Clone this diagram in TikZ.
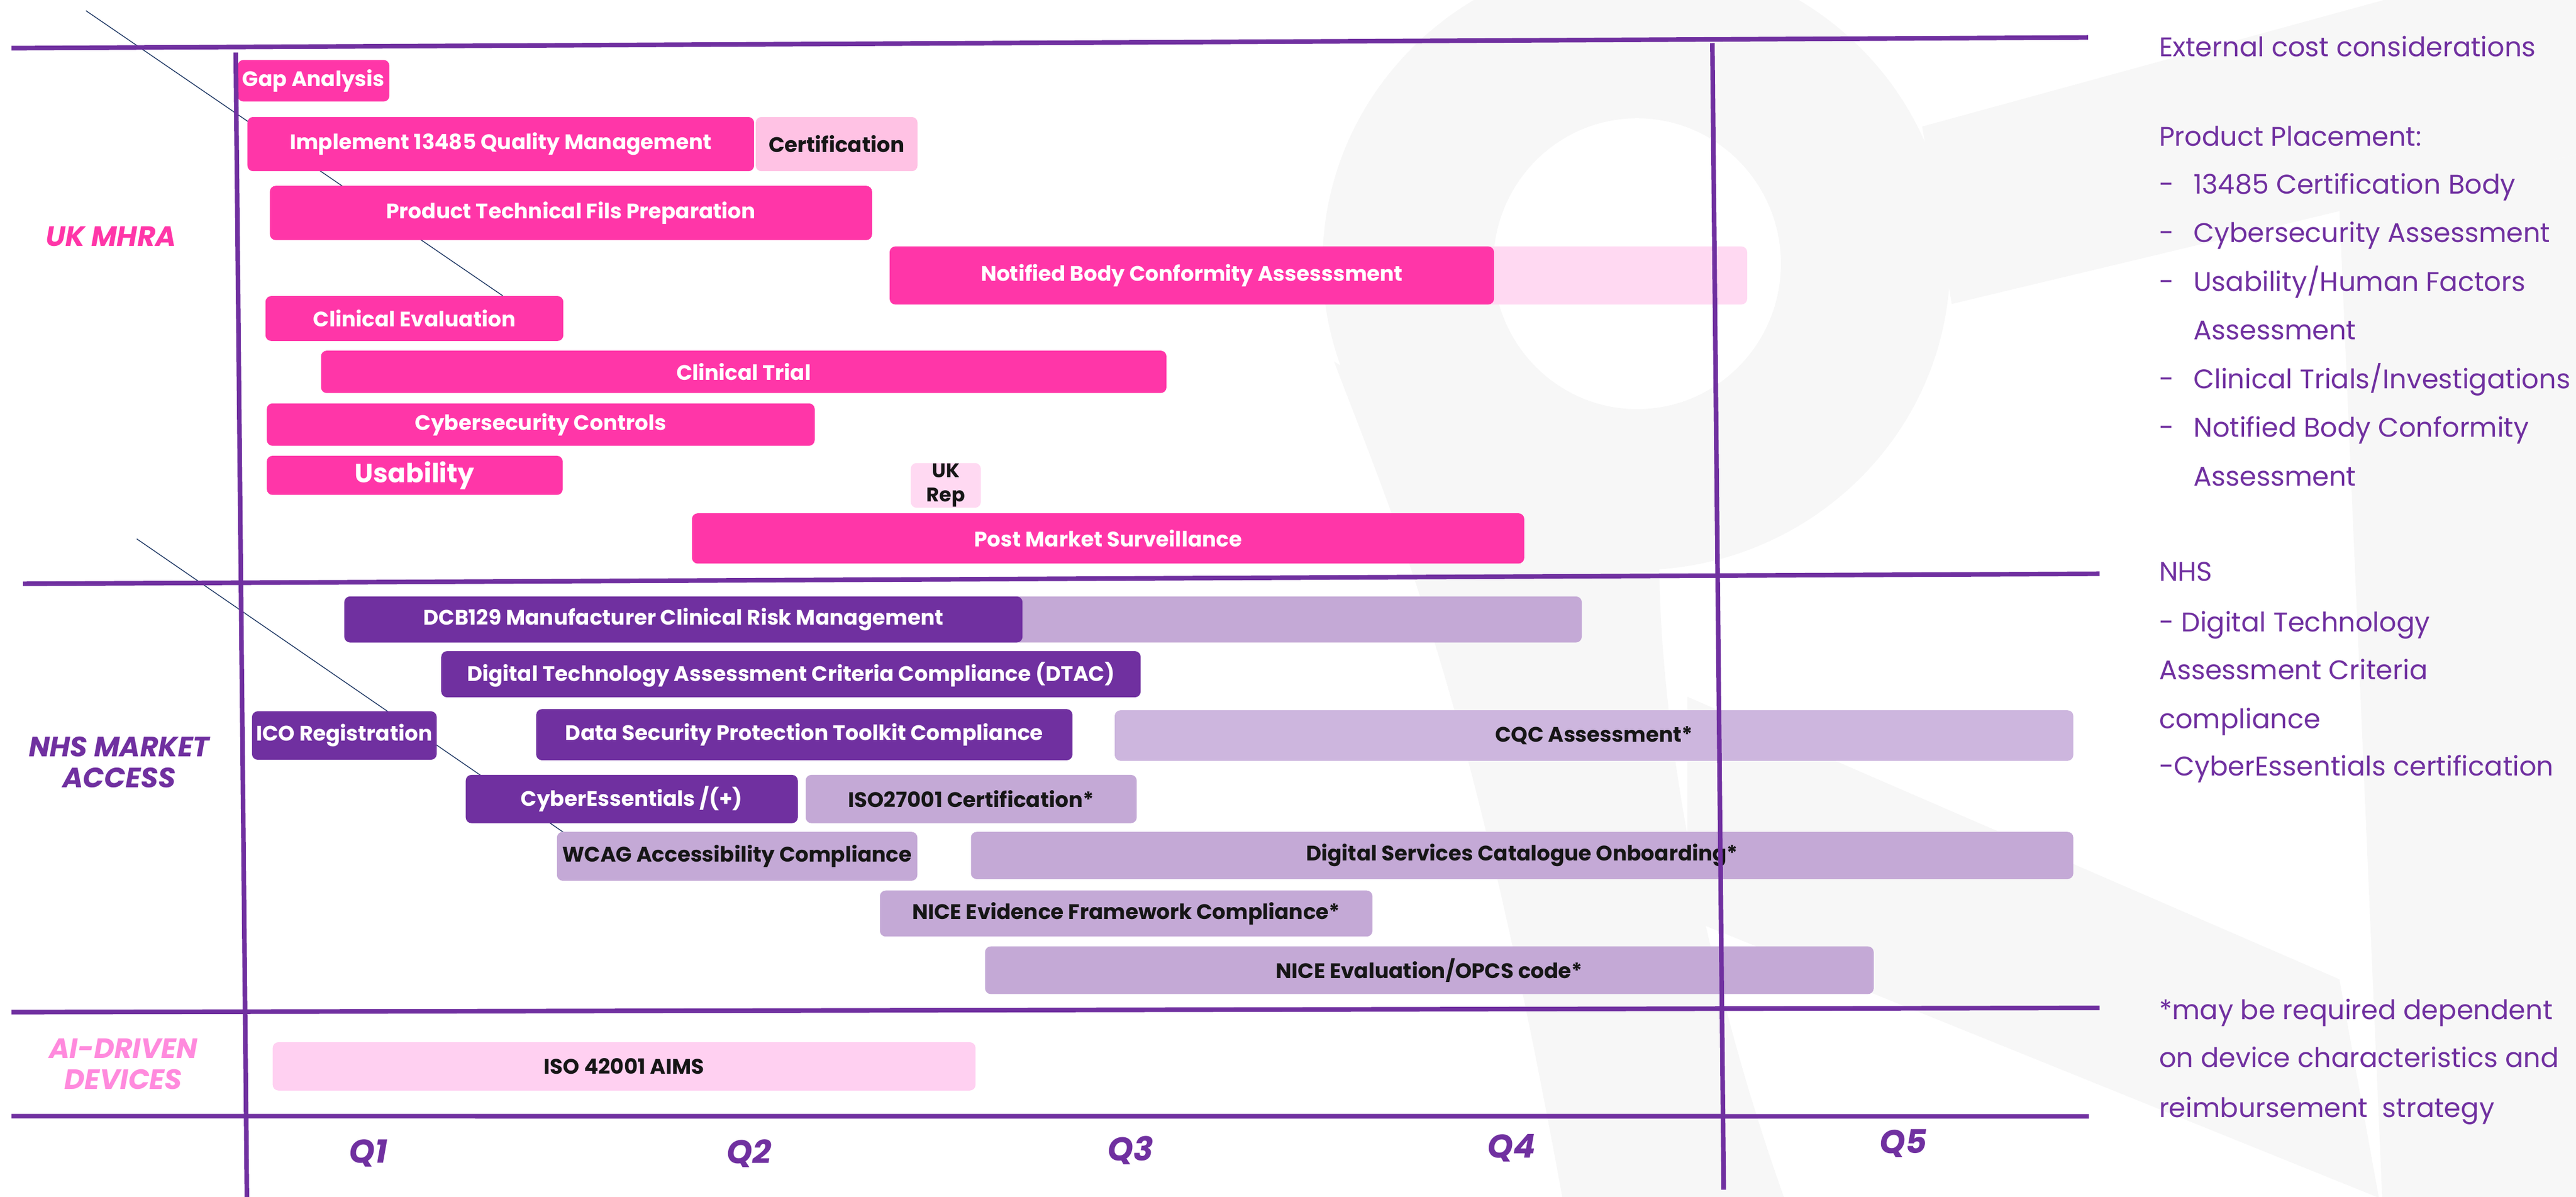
\documentclass[tikz,border=0pt]{standalone}
\usepackage{fontspec}
\setmainfont{Poppins}
\definecolor{purp}{HTML}{7030A0}
\definecolor{hpink}{HTML}{FF36A8}
\definecolor{lpink}{HTML}{FFC2E4}
\definecolor{vlpink}{HTML}{FFD9F2}
\definecolor{aipink}{HTML}{FFD0F1}
\definecolor{lpurp}{HTML}{C4A9D6}
\definecolor{lpurpb}{HTML}{CDB6DE}
\definecolor{navy}{HTML}{1F3864}
\definecolor{bglogo}{HTML}{F7F7F7}
\definecolor{aitext}{HTML}{FF8ADD}
\definecolor{txtdark}{HTML}{161616}
\newcommand{\gantt}[7]{\node[#1, minimum width={#5pt-#3pt}, minimum height={#6pt-#4pt}] (#2) at ({(#3+#5)/2},{(#4+#6)/2}) {#7};}
\begin{document}
\begin{tikzpicture}[x=1pt,y=-1pt,
  bx/.style={rounded corners=3.5pt, inner sep=0pt, font=\fontsize{12.8}{15}\selectfont\bfseries, align=center},
  pk/.style={bx, fill=hpink, text=white},
  lpk/.style={bx, fill=lpink, text=txtdark},
  vlpk/.style={bx, fill=vlpink, text=txtdark},
  aipk/.style={bx, fill=aipink, text=txtdark},
  dp/.style={bx, fill=purp, text=white},
  lp/.style={bx, fill=lpurp, text=txtdark},
  lpb/.style={bx, fill=lpurpb, text=txtdark},
  cat/.style={font=\fontsize{17}{18.8}\selectfont\bfseries\itshape, align=center, inner sep=0pt},
  qlab/.style={font=\fontsize{20}{22}\selectfont\bfseries\itshape, text=purp, inner sep=0pt},
  rtxt/.style={font=\fontsize{16.4}{20}\selectfont, text=purp, inner sep=0pt, anchor=base west},
  gridline/.style={draw=purp, line width=2.8pt},
  diag/.style={draw=navy, line width=0.5pt}
]
\useasboundingbox (0,0) rectangle (1568,728.5);
% background logo
\fill[bglogo, even odd rule] (996,160) ellipse [x radius=191pt, y radius=187pt] (996.5,160.5) ellipse [x radius=87.5pt, y radius=88.5pt];
\fill[bglogo] (812,220) .. controls (850,320) and (895,420) .. (951,729) -- (1086,729) .. controls (1040,600) and (1010,450) .. (1010,340) -- cycle;
\fill[bglogo] (1027,424) -- (1424,596) -- (1448,729) -- (1027,559) -- cycle;
\fill[bglogo] (1170,77) -- (1451,0) -- (1568,0) -- (1568,94) -- (1188,185) -- cycle;
\fill[bglogo] (1424,128) -- (1568,94) -- (1568,729) -- (1450,729) -- cycle;
% thin diagonal lines
\coordinate (d1a) at (52.3,6.5); \coordinate (d1b) at (306,180);
\coordinate (d2a) at (83.3,328); \coordinate (d2b) at (348,510);
\draw[diag] (d1a) -- (d1b);
\draw[diag] (d2a) -- (d2b);
% UK MHRA
\gantt{pk}{gap}{144.7}{36.5}{237}{61.8}{Gap Analysis}
\gantt{pk}{impl}{150.6}{71.2}{459}{104.2}{Implement 13485 Quality Management}
\gantt{lpk}{cert}{460}{71.2}{558.5}{104.2}{Certification}
\gantt{pk}{ptf}{164.3}{113.1}{530.8}{146.1}{Product Technical Fils Preparation}
\gantt{vlpk}{nbext}{541.5}{150}{1063.5}{185.3}{}
\gantt{pk}{nb}{541.5}{150}{909.4}{185.3}{Notified Body Conformity Assesssment}
\gantt{pk}{ce}{161.6}{180.2}{342.9}{207.5}{Clinical Evaluation}
\gantt{pk}{ct}{195.4}{213.4}{710}{239.2}{Clinical Trial}
\gantt{pk}{cc}{162.4}{245.5}{495.9}{271.3}{Cybersecurity Controls}
\gantt{pk, font=\fontsize{16}{18}\selectfont\bfseries}{us}{162.4}{277.4}{342.5}{301.2}{Usability}
\gantt{vlpk, font=\fontsize{12}{14.7}\selectfont\bfseries}{ukrep}{554.4}{281.8}{597}{309}{UK\\Rep}
\gantt{pk}{pms}{421.2}{312.4}{927.8}{343}{Post Market Surveillance}
% NHS
\gantt{lp}{dcbext}{209.6}{363}{962.8}{391}{}
\gantt{dp}{dcb}{209.6}{363}{622.4}{391}{DCB129 Manufacturer Clinical Risk Management}
\gantt{dp}{dtac}{268.6}{396.3}{694.3}{424.4}{Digital Technology Assessment Criteria Compliance (DTAC)}
\gantt{dp}{ico}{153.4}{432.9}{265.8}{462.4}{ICO Registration}
\gantt{dp}{dspt}{326.4}{431.6}{652.8}{462.7}{Data Security Protection Toolkit Compliance}
\gantt{lpb}{cqc}{678.5}{432.3}{1262}{463}{CQC Assessment*}
\gantt{dp}{cyber}{283.5}{471.6}{485.6}{501}{CyberEssentials /(+)}
\gantt{lp}{iso27}{490.4}{471.6}{691.9}{501}{ISO27001 Certification*}
\gantt{lp}{wcag}{339}{506.3}{558.4}{536}{WCAG Accessibility Compliance}
\gantt{lp}{dsc}{591}{506.3}{1262}{535}{Digital Services Catalogue Onboarding*}
\gantt{lp}{nef}{535.6}{542}{835.4}{570}{NICE Evidence Framework Compliance*}
\gantt{lp}{neo}{599.6}{576}{1140.5}{605}{NICE Evaluation/OPCS code*}
% AI
\gantt{aipk}{iso42}{166}{634.3}{593.8}{663.7}{ISO 42001 AIMS}
% grid lines
\coordinate (h1a) at (7,29.3); \coordinate (h1b) at (1271,22.8);
\coordinate (h2a) at (14,355.3); \coordinate (h2b) at (1278,349.2);
\coordinate (h3a) at (7,616); \coordinate (h3b) at (1278,613.4);
\coordinate (h4a) at (7,679.3); \coordinate (h4b) at (1271.5,679.4);
\coordinate (v1a) at (143.5,32); \coordinate (v1b) at (150.3,729);
\coordinate (v2a) at (1042.3,26.2); \coordinate (v2b) at (1049.2,724);
\draw[gridline] (h1a) -- (h1b);
\draw[gridline] (h2a) -- (h2b);
\draw[gridline] (h3a) -- (h3b);
\draw[gridline] (h4a) -- (h4b);
\draw[gridline] (v1a) -- (v1b);
\draw[gridline] (v2a) -- (v2b);
% category labels
\node[cat, text=hpink] (ukmhra) at (67.5,144) {UK MHRA};
\node[cat, text=purp] (nhsma) at (72.5,464) {NHS MARKET\\ACCESS};
\node[cat, text=aitext] (aidd) at (75,647.5) {AI-DRIVEN\\DEVICES};
% quarters
\node[qlab] (q1) at (224.3,702) {Q1};
\node[qlab] (q2) at (455.8,702) {Q2};
\node[qlab] (q3) at (688,700) {Q3};
\node[qlab] (q4) at (920,698.7) {Q4};
\node[qlab] (q5) at (1158.5,696) {Q5};
% right notes
\node[rtxt] (r1) at (1314,34.3) {External cost considerations};
\node[rtxt] (r2) at (1314,88.9) {Product Placement:};
\node[rtxt] (r3d) at (1314,118) {-}; \node[rtxt] (r3) at (1335,118) {13485 Certification Body};
\node[rtxt] (r4d) at (1314,147.6) {-}; \node[rtxt] (r4) at (1335,147.6) {Cybersecurity Assessment};
\node[rtxt] (r5d) at (1314,177.2) {-}; \node[rtxt] (r5) at (1335,177.2) {Usability/Human Factors};
\node[rtxt] (r6) at (1335,206.8) {Assessment};
\node[rtxt] (r7d) at (1314,236.4) {-}; \node[rtxt] (r7) at (1335,236.4) {Clinical Trials/Investigations};
\node[rtxt] (r8d) at (1314,266) {-}; \node[rtxt] (r8) at (1335,266) {Notified Body Conformity};
\node[rtxt] (r9) at (1335,295.6) {Assessment};
\node[rtxt] (r10) at (1314,353.6) {NHS};
\node[rtxt] (r11) at (1314,384.4) {- Digital Technology};
\node[rtxt] (r12) at (1314,413.4) {Assessment Criteria};
\node[rtxt] (r13) at (1314,443.4) {compliance};
\node[rtxt] (r14) at (1314,472.3) {-CyberEssentials certification};
\node[rtxt] (r15) at (1314,620.6) {*may be required dependent};
\node[rtxt] (r16) at (1314,649.7) {on device characteristics and};
\node[rtxt] (r17) at (1314,679.9) {reimbursement\ \ strategy};
\end{tikzpicture}
\end{document}
